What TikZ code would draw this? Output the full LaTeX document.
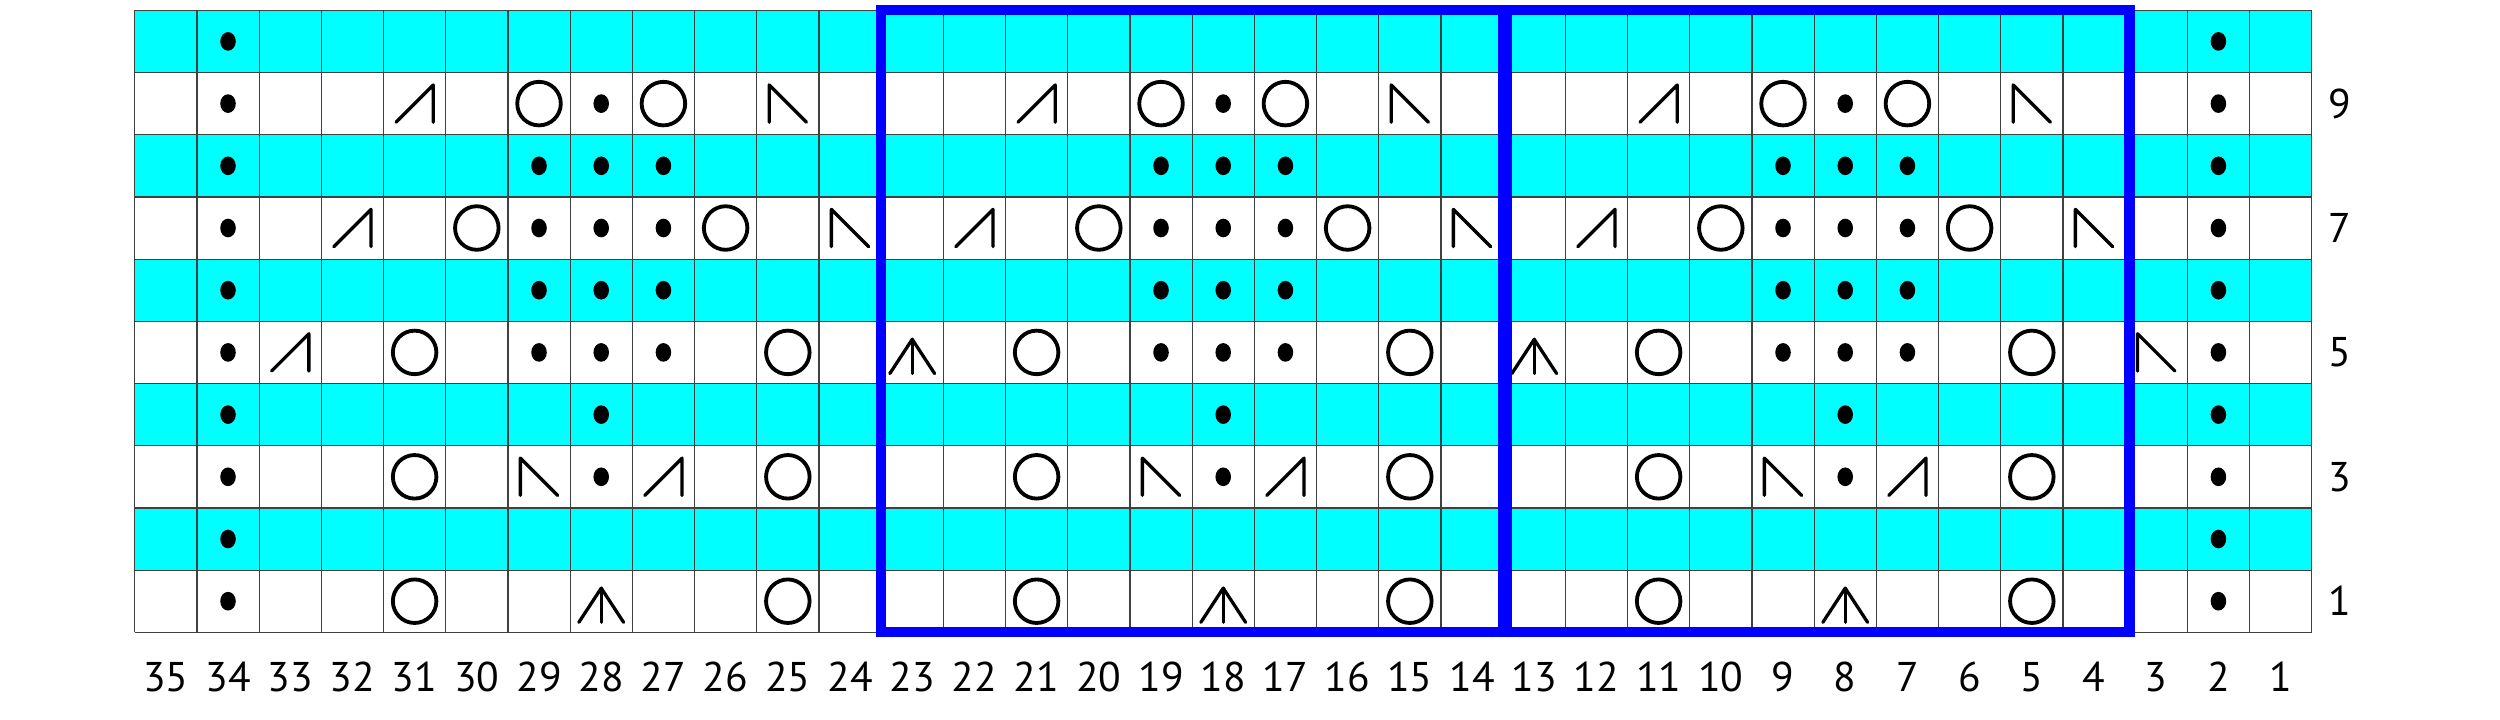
\documentclass[tikz,border=0pt]{standalone}
\usepackage{fontspec}
\setmainfont{PT Sans}
\definecolor{chartcyan}{HTML}{00FFFF}
\definecolor{chartblue}{HTML}{0000FF}
\tikzset{
  gridline/.style={draw=black!75, line width=0.55pt},
  symline/.style={draw=black, line width=1.5pt, line cap=round, line join=round},
  ringline/.style={draw=black, line width=1.75pt},
  repbox/.style={draw=chartblue, line width=4.6pt, line join=miter},
  numlabel/.style={font=\fontsize{19}{21}\selectfont, inner sep=0pt},
  kdot/.pic={\fill[black] (0,0) ellipse (0.125 and 0.15);},
  yo/.pic={\draw[ringline] (0,0) circle (0.35);},
  ktog/.pic={\draw[symline] (-0.3,-0.3) -- (0.3,0.3) -- (0.3,-0.3);},
  sskd/.pic={\draw[symline] (0.3,-0.3) -- (-0.3,0.3) -- (-0.3,-0.3);},
  cdd/.pic={\draw[symline] (-0.36,-0.34) -- (0,0.21) -- (0.36,-0.34); \draw[symline] (0,0.21) -- (0,-0.34);}
}
\begin{document}
\begin{tikzpicture}[x=1cm,y=1cm]
\useasboundingbox (-2.166,-1.394) rectangle (38.027,10.166);
% cyan rows
\foreach \r in {2,4,6,8,10}{
  \fill[chartcyan] (0,\r-1) rectangle (35,\r);
}
% grid
\foreach \i in {0,...,35}{ \draw[gridline] (\i,0) -- (\i,10); }
\foreach \j in {0,...,10}{ \draw[gridline] (0,\j) -- (35,\j); }
% purl dots
\foreach \c/\r in {34/10,2/10,
  34/9,28/9,18/9,8/9,2/9,
  34/8,29/8,28/8,27/8,19/8,18/8,17/8,9/8,8/8,7/8,2/8,
  34/7,29/7,28/7,27/7,19/7,18/7,17/7,9/7,8/7,7/7,2/7,
  34/6,29/6,28/6,27/6,19/6,18/6,17/6,9/6,8/6,7/6,2/6,
  34/5,29/5,28/5,27/5,19/5,18/5,17/5,9/5,8/5,7/5,2/5,
  34/4,28/4,18/4,8/4,2/4,
  34/3,28/3,18/3,8/3,2/3,
  34/2,2/2,
  34/1,2/1}{
  \pic at ({35.5-\c},{\r-0.5}) {kdot};
}
% yarn overs
\foreach \c/\r in {29/9,27/9,19/9,17/9,9/9,7/9,
  30/7,26/7,20/7,16/7,10/7,6/7,
  31/5,25/5,21/5,15/5,11/5,5/5,
  31/3,25/3,21/3,15/3,11/3,5/3,
  31/1,25/1,21/1,15/1,11/1,5/1}{
  \pic at ({35.5-\c},{\r-0.5}) {yo};
}
% right-leaning decreases
\foreach \c/\r in {31/9,21/9,11/9,32/7,22/7,12/7,33/5,27/3,17/3,7/3}{
  \pic at ({35.5-\c},{\r-0.5}) {ktog};
}
% left-leaning decreases
\foreach \c/\r in {25/9,15/9,5/9,24/7,14/7,4/7,3/5,29/3,19/3,9/3}{
  \pic at ({35.5-\c},{\r-0.5}) {sskd};
}
% central double decreases
\foreach \c/\r in {23/5,13/5,28/1,18/1,8/1}{
  \pic at ({35.5-\c},{\r-0.5}) {cdd};
}
% repeat boxes
\draw[repbox] (12,0) rectangle (22,10);
\draw[repbox] (22.06,0) rectangle (32.07,10);
% column numbers
\foreach \n in {1,...,35}{
  \node[numlabel] (col\n) at ({35.5-\n},-0.714) {\n};
}
% row numbers
\foreach \r in {1,3,5,7,9}{
  \node[numlabel] (row\r) at (35.45,{\r-0.5}) {\r};
}
\end{tikzpicture}
\end{document}
